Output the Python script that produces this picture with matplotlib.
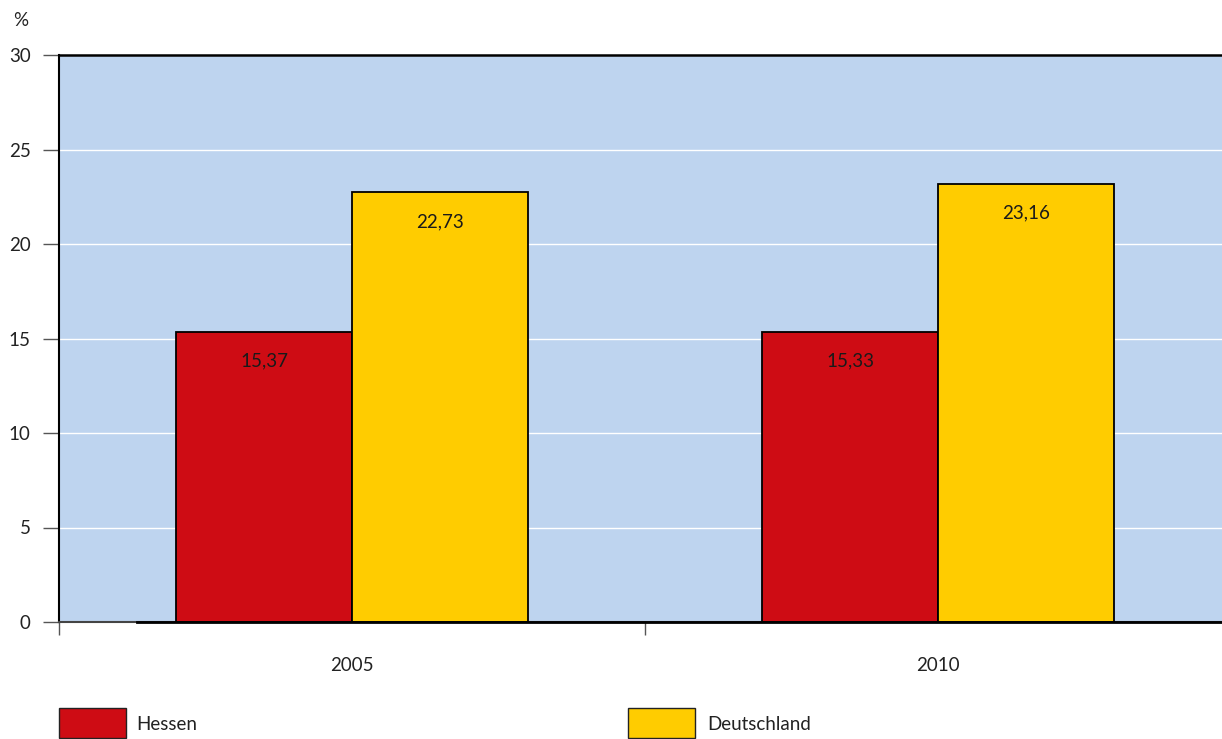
import matplotlib
matplotlib.use("Agg")
import matplotlib.pyplot as plt
from matplotlib.patches import Rectangle
import numpy as np

categories = ["2005", "2010"]
series_names = ["Hessen", "Deutschland"]
hessen = [15.37, 15.33]
deutschland = [22.73, 23.16]
value_labels_h = ["15,37", "15,33"]
value_labels_d = ["22,73", "23,16"]
yticks = [0, 5, 10, 15, 20, 25, 30]

colors = ["#CE0C14", "#FFCC00"]
bg = "#BED4EF"

plt.rcParams['font.family'] = ['Lato', 'DejaVu Sans']
FS = 13.5

W, H = 1222, 739
fig = plt.figure(figsize=(W/100, H/100), dpi=100)
ax = fig.add_axes([59/W, 1-622/H, (1222-59)/W, (622-55)/H])
ax.set_facecolor(bg)

x = np.arange(len(categories))
bw = 0.3
bars_h = ax.bar(x - bw/2, hessen, bw, color=colors[0], edgecolor="black", linewidth=1.3, zorder=3)
bars_d = ax.bar(x + bw/2, deutschland, bw, color=colors[1], edgecolor="black", linewidth=1.3, zorder=3)

for bars, labs in ((bars_h, value_labels_h), (bars_d, value_labels_d)):
    for b, lab in zip(bars, labs):
        ax.annotate(lab, (b.get_x() + b.get_width()/2, b.get_height()),
                    xytext=(0, -29), textcoords="offset pixels",
                    ha="center", va="center", fontsize=FS, color="#1a1a1a", zorder=4)

ax.set_xlim(-0.5, -0.5 + (1222-59)/586)
ax.set_ylim(0, 30)
ax.set_yticks(yticks)
ax.set_yticklabels([str(v) for v in yticks], fontsize=FS, color="#222222")
ax.yaxis.grid(True, color="white", linewidth=1)
ax.set_axisbelow(True)

ax.set_xticks([-0.5, 0.5])
ax.set_xticklabels([])
ax.tick_params(axis="x", direction="out", length=9.5, color="#555555", width=1)
ax.tick_params(axis="y", direction="out", length=11.5, color="#555555", width=1, pad=9)
for i, c in enumerate(categories):
    ax.text(i, -2.3, c, ha="center", va="center", fontsize=FS, color="#222222")

ax.spines["right"].set_visible(False)
ax.spines["left"].set_color("black")
ax.spines["left"].set_linewidth(1.5)
ax.spines["top"].set_color("black")
ax.spines["top"].set_linewidth(1.8)
ax.spines["bottom"].set_color("#444444")
ax.spines["bottom"].set_linewidth(1.5)
ax.plot([-0.5 + (137-59)/586, ax.get_xlim()[1]], [0, 0], color="black", lw=2, zorder=5, clip_on=False)

fig.text(13/W, 1-20/H, "%", fontsize=FS, color="#222222", va="center", ha="left")

# legend
leg_items = [(59, 136), (628, 707)]
for (px, tx), name, col in zip(leg_items, series_names, colors):
    fig.patches.append(Rectangle((px/W, 1-738/H), 67/W, 30/H, transform=fig.transFigure,
                                 facecolor=col, edgecolor="#222222", linewidth=1))
    fig.text(tx/W, 1-724/H, name, fontsize=FS, color="#222222", va="center", ha="left")

fig.savefig("out.png", dpi=100)
